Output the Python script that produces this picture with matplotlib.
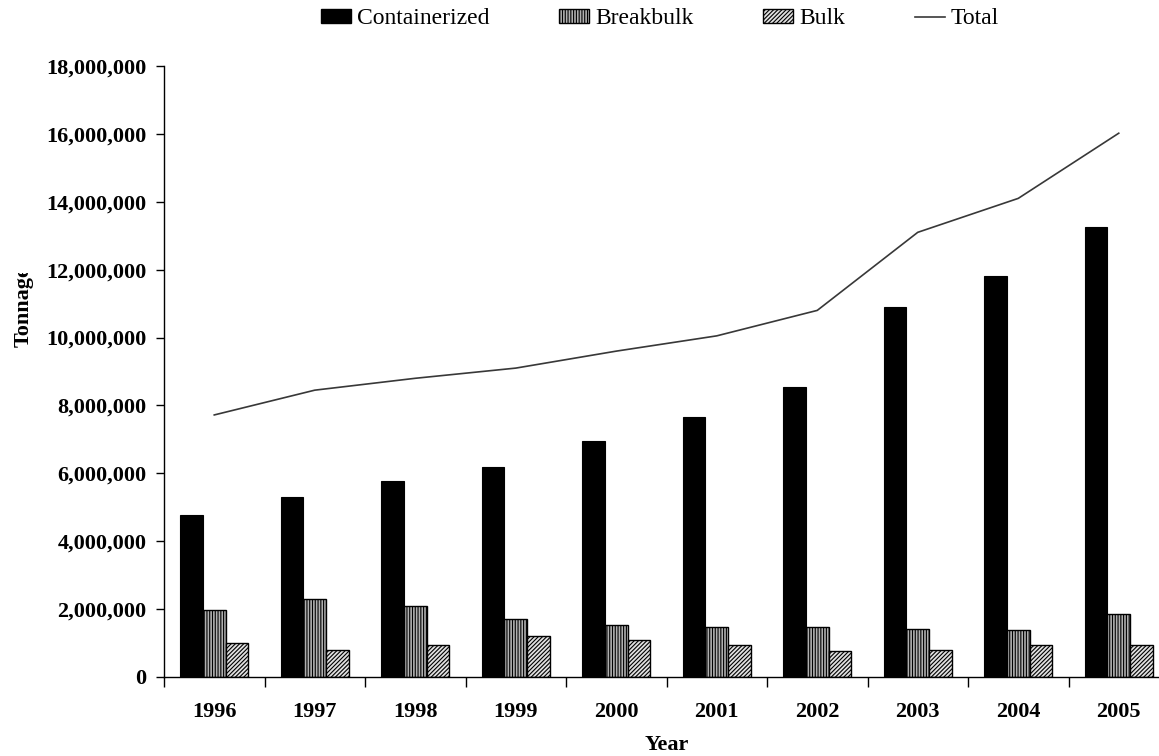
import matplotlib
matplotlib.use("Agg")
import matplotlib.pyplot as plt
from matplotlib.ticker import FuncFormatter, FixedLocator
from matplotlib.patches import Patch
from matplotlib.lines import Line2D
from matplotlib.transforms import Bbox
import numpy as np

years = ["1996", "1997", "1998", "1999", "2000", "2001", "2002", "2003", "2004", "2005"]
containerized = [4780000, 5300000, 5780000, 6200000, 6950000, 7650000, 8550000, 10900000, 11800000, 13250000]
breakbulk = [1980000, 2310000, 2100000, 1720000, 1530000, 1480000, 1480000, 1400000, 1390000, 1850000]
bulk = [1010000, 800000, 930000, 1200000, 1100000, 950000, 780000, 810000, 940000, 930000]
total = [7720000, 8450000, 8800000, 9100000, 9600000, 10050000, 10800000, 13100000, 14100000, 16020000]

plt.rcParams['font.family'] = ['Liberation Serif', 'DejaVu Serif']
plt.rcParams['hatch.linewidth'] = 0.8

W, H = 1159, 756
fig = plt.figure(figsize=(W / 100, H / 100), dpi=100)
ax = fig.add_axes([164 / W, 1 - 677 / H, 1005 / W, (677 - 66) / H])

x = np.arange(len(years))
bw = 0.224
ax.bar(x - bw, containerized, bw, color='black', edgecolor='black', linewidth=0.8, label='Containerized')
ax.bar(x, breakbulk, bw, color='#b0b0b0', edgecolor='black', linewidth=1.0, hatch='||||||', label='Breakbulk')
ax.bar(x + bw, bulk, bw, color='#e0e0e0', edgecolor='black', linewidth=1.0, hatch='////////', label='Bulk')
ax.plot(x, total, color='#383838', linewidth=1.2, label='Total')

ax.set_xlim(-0.5, len(years) - 0.5)
ax.set_ylim(0, 18000000)
ax.set_yticks(np.arange(0, 18000001, 2000000))
ax.yaxis.set_major_formatter(FuncFormatter(lambda v, p: f"{int(v):,}"))
ax.set_xticks(x)
ax.set_xticklabels(years)
ax.xaxis.set_minor_locator(FixedLocator(np.arange(-0.5, len(years) + 0.5, 1)))
ax.tick_params(axis='x', which='major', length=0, pad=18, labelsize=16)
ax.tick_params(axis='x', which='minor', length=7, width=1, direction='out')
ax.tick_params(axis='y', length=6, width=1, direction='out', pad=6.5, labelsize=16)
for lab in ax.get_xticklabels() + ax.get_yticklabels():
    lab.set_fontweight('bold')

for s in ['top', 'right']:
    ax.spines[s].set_visible(False)
for s in ['left', 'bottom']:
    ax.spines[s].set_linewidth(1.0)

tl = fig.text(24 / W, 1 - 347 / H, "Tonnage", rotation=90, ha='left', va='center',
              fontsize=16, fontweight='bold', rotation_mode='anchor')
tl.set_clip_box(Bbox([[0, 0], [W, H - 273]]))
tl.set_clip_on(True)
fig.text(666.5 / W, 1 - 735 / H, "Year", ha='center', va='top', fontsize=16, fontweight='bold')

handles = [
    Patch(facecolor='black', edgecolor='black', label='Containerized'),
    Patch(facecolor='#b0b0b0', edgecolor='black', hatch='||||||', label='Breakbulk'),
    Patch(facecolor='#e0e0e0', edgecolor='black', hatch='////////', label='Bulk'),
    Line2D([0], [0], color='#383838', linewidth=1.2, label='Total'),
]
fig.legend(handles=handles, loc='center', bbox_to_anchor=(660 / W, 1 - 19 / H), ncol=4,
           frameon=False, fontsize=17, handlelength=1.27, handleheight=0.55,
           handletextpad=0.25, columnspacing=2.95, borderpad=0, borderaxespad=0)

fig.savefig("out.png", dpi=100)
